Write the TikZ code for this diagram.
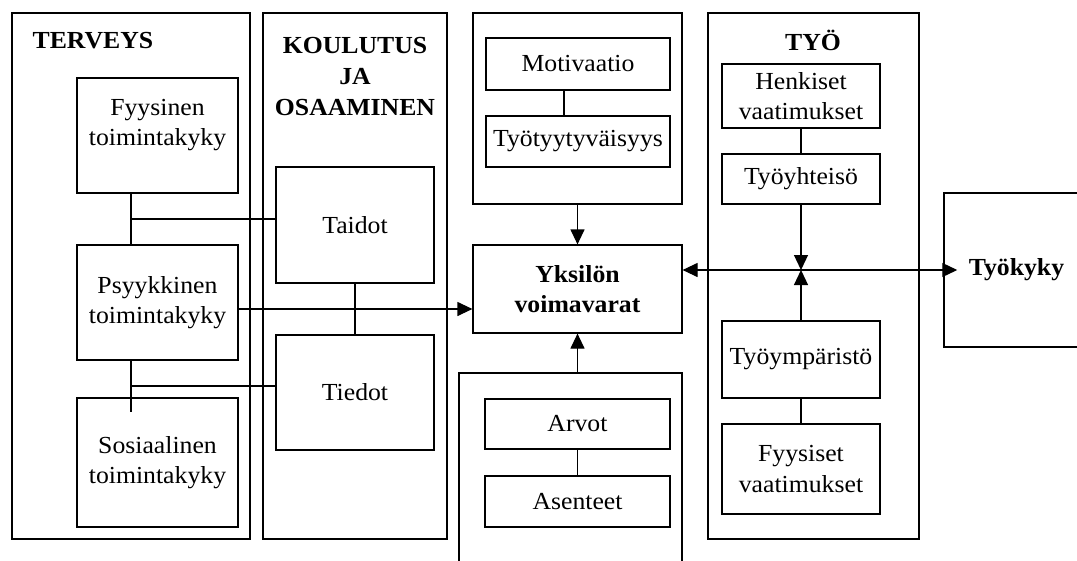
\documentclass[tikz,border=0pt]{standalone}
\usepackage{fontspec}
\setmainfont{Liberation Serif}[FakeStretch=1.05]
\usetikzlibrary{arrows.meta}

\begin{document}
\begin{tikzpicture}[x=1pt, y=-1pt, line width=1.2pt,
    frame/.style={draw, inner sep=0pt},
    box/.style={draw, align=center, inner sep=0pt, font=\fontsize{24.5}{30.5}\selectfont},
    head/.style={align=center, inner sep=0pt, font=\fontsize{24.5}{31}\selectfont\bfseries},
    arr/.style={-{Triangle[length=15pt, width=14pt]}}]
    \useasboundingbox (0,0) rectangle (1077,560);
    % TERVEYS
    \node[frame, minimum width=238, minimum height=526] (terv) at (131, 276) {};
    \node[head, anchor=base west] (tervh) at (32, 48) {TERVEYS};
    \node[box, minimum width=161, minimum height=115, text depth=26pt] (fyy) at (157.5, 135.5) {Fyysinen\\toimintakyky};
    \node[box, minimum width=161, minimum height=115] (psy) at (157.5, 302.5) {Psyykkinen\\toimintakyky};
    \node[box, minimum width=161, minimum height=129] (sos) at (157.5, 462.5) {Sosiaalinen\\toimintakyky};
    % KOULUTUS JA OSAAMINEN
    \node[frame, minimum width=184, minimum height=526] (koul) at (355, 276) {};
    \node[head] (koulh) at (355, 77) {KOULUTUS\\JA\\OSAAMINEN};
    \node[box, minimum width=158, minimum height=116] (tai) at (355, 225) {Taidot};
    \node[box, minimum width=158, minimum height=115] (tie) at (355, 392.5) {Tiedot};
    % middle
    \node[frame, minimum width=209, minimum height=191] (mid) at (577.5, 108.5) {};
    \node[box, minimum width=184, minimum height=52] (mot) at (578, 64) {Motivaatio};
    \node[box, minimum width=184, minimum height=51] (tyt) at (578, 141.5) {Työtyytyväisyys};
    \node[box, minimum width=209, minimum height=88, font=\fontsize{24.5}{30.5}\selectfont\bfseries] (yks) at (577.5, 289) {Yksilön\\voimavarat};
    \node[frame, minimum width=223, minimum height=194] (low) at (570.5, 470) {};
    \node[box, minimum width=185, minimum height=50] (arv) at (577.5, 424) {Arvot};
    \node[box, minimum width=185, minimum height=51] (ase) at (577.5, 501.5) {Asenteet};
    % TYÖ
    \node[frame, minimum width=211, minimum height=526] (tyo) at (813.5, 276) {};
    \node[head, anchor=base] (tyoh) at (813, 50) {TYÖ};
    \node[box, minimum width=158, minimum height=64] (hen) at (801, 96) {Henkiset\\vaatimukset};
    \node[box, minimum width=158, minimum height=50] (yht) at (801, 179) {Työyhteisö};
    \node[box, minimum width=158, minimum height=77] (ymp) at (801, 359.5) {Työympäristö};
    \node[box, minimum width=158, minimum height=90] (fys) at (801, 469) {Fyysiset\\vaatimukset};
    % Työkyky
    \node[frame, minimum width=146, minimum height=154] (tkbox) at (1017, 270) {};
    \node[head, inner sep=11pt] (tk) at (1016.5, 270) {Työkyky};

    % connectors
    \coordinate (ft) at (131, 219);
    \coordinate (pt) at (131, 386);
    \coordinate (st) at (131, 412);
    \draw (fyy.south -| terv) -- (psy.north -| terv);
    \draw (ft) -- (ft -| tai.west);
    \draw (psy.south -| terv) -- (st);
    \draw (pt) -- (pt -| tie.west);
    \draw (tai.south) -- (tie.north);
    \draw [arr] ([yshift=-6.5pt]psy.east) -- ([yshift=-6.5pt]psy.east -| yks.west);
    \draw ([xshift=-14pt]mot.south) -- ([xshift=-14pt]mot.south |- tyt.north);
    \draw [arr] (mid.south -| yks) -- (yks.north);
    \draw [arr] (low.north -| yks) -- (yks.south);
    \draw (arv.south) -- (ase.north);
    \draw (hen.south) -- (yht.north);
    \draw (ymp.south) -- (fys.north);
    \coordinate (jn) at (yht.south |- tk);
    \draw [arr] (yht.south) -- (jn);
    \draw [arr] (ymp.north) -- (jn);
    \draw [arr] (jn) -- (jn -| yks.east);
    \draw [arr] (jn) -- (tk.west);
\end{tikzpicture}
\end{document}
